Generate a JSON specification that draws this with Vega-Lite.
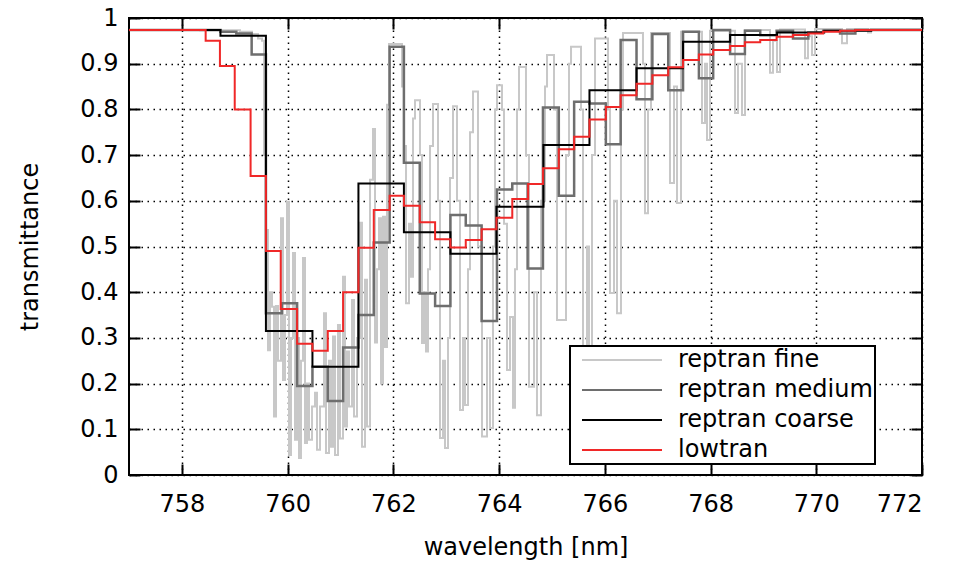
{
  "$schema": "https://vega.github.io/schema/vega-lite/v6.json",
  "width": 793,
  "height": 457,
  "autosize": {"type": "none"},
  "padding": {"left": 129, "top": 18, "right": 32, "bottom": 88},
  "background": "white",
  "config": {
    "font": "DejaVu Sans",
    "view": {"stroke": "black", "strokeWidth": 2},
    "axis": {
      "domain": false,
      "tickColor": "black",
      "tickWidth": 2,
      "tickSize": -11,
      "labelColor": "black",
      "titleColor": "black",
      "labelFontSize": 24,
      "titleFontSize": 24,
      "titleFontWeight": "normal",
      "gridColor": "black",
      "gridDash": [1.5, 4.5],
      "gridWidth": 1.5,
      "gridOpacity": 1
    },
    "legend": {
      "labelFontSize": 24,
      "labelColor": "black",
      "labelLimit": 500,
      "strokeColor": "black",
      "strokeWidth": 2,
      "fillColor": "white",
      "padding": 2,
      "symbolStrokeWidth": 2,
      "symbolType": "M-4,0H4",
      "symbolSize": 400,
      "symbolOffset": 38,
      "rowPadding": 6,
      "labelOffset": 44
    }
  },
  "datasets": {
    "fine": [
      {"wl": 757.0, "t": 0.974}, {"wl": 758.343, "t": 0.973}, {"wl": 759.1, "t": 0.97}, {"wl": 759.327, "t": 0.965},
      {"wl": 759.44, "t": 0.955}, {"wl": 759.516, "t": 0.95}, {"wl": 759.553, "t": 0.7}, {"wl": 759.591, "t": 0.536},
      {"wl": 759.629, "t": 0.273}, {"wl": 759.667, "t": 0.4}, {"wl": 759.705, "t": 0.368}, {"wl": 759.743, "t": 0.128},
      {"wl": 759.781, "t": 0.37}, {"wl": 759.818, "t": 0.25}, {"wl": 759.875, "t": 0.562}, {"wl": 759.913, "t": 0.208},
      {"wl": 759.951, "t": 0.35}, {"wl": 759.989, "t": 0.598}, {"wl": 760.026, "t": 0.044}, {"wl": 760.064, "t": 0.3},
      {"wl": 760.102, "t": 0.486}, {"wl": 760.14, "t": 0.077}, {"wl": 760.178, "t": 0.3}, {"wl": 760.216, "t": 0.037},
      {"wl": 760.253, "t": 0.25}, {"wl": 760.291, "t": 0.475}, {"wl": 760.329, "t": 0.07}, {"wl": 760.367, "t": 0.2},
      {"wl": 760.405, "t": 0.077}, {"wl": 760.462, "t": 0.15}, {"wl": 760.518, "t": 0.18}, {"wl": 760.556, "t": 0.055},
      {"wl": 760.613, "t": 0.15}, {"wl": 760.688, "t": 0.354}, {"wl": 760.726, "t": 0.048}, {"wl": 760.783, "t": 0.25},
      {"wl": 760.821, "t": 0.062}, {"wl": 760.859, "t": 0.303}, {"wl": 760.897, "t": 0.044}, {"wl": 760.953, "t": 0.328},
      {"wl": 760.991, "t": 0.08}, {"wl": 761.048, "t": 0.434}, {"wl": 761.086, "t": 0.106}, {"wl": 761.124, "t": 0.27},
      {"wl": 761.161, "t": 0.15}, {"wl": 761.218, "t": 0.383}, {"wl": 761.256, "t": 0.128}, {"wl": 761.313, "t": 0.3},
      {"wl": 761.369, "t": 0.552}, {"wl": 761.407, "t": 0.062}, {"wl": 761.464, "t": 0.427}, {"wl": 761.502, "t": 0.106},
      {"wl": 761.559, "t": 0.646}, {"wl": 761.615, "t": 0.757}, {"wl": 761.653, "t": 0.29}, {"wl": 761.691, "t": 0.45},
      {"wl": 761.729, "t": 0.562}, {"wl": 761.767, "t": 0.2}, {"wl": 761.804, "t": 0.565}, {"wl": 761.842, "t": 0.28},
      {"wl": 761.88, "t": 0.81}, {"wl": 761.918, "t": 0.943}, {"wl": 762.164, "t": 0.85}, {"wl": 762.202, "t": 0.72},
      {"wl": 762.24, "t": 0.376}, {"wl": 762.296, "t": 0.55}, {"wl": 762.334, "t": 0.434}, {"wl": 762.372, "t": 0.78},
      {"wl": 762.41, "t": 0.82}, {"wl": 762.504, "t": 0.7}, {"wl": 762.542, "t": 0.289}, {"wl": 762.58, "t": 0.4},
      {"wl": 762.618, "t": 0.27}, {"wl": 762.656, "t": 0.45}, {"wl": 762.694, "t": 0.72}, {"wl": 762.75, "t": 0.812},
      {"wl": 762.845, "t": 0.6}, {"wl": 762.883, "t": 0.081}, {"wl": 762.939, "t": 0.25}, {"wl": 762.977, "t": 0.059},
      {"wl": 763.034, "t": 0.3}, {"wl": 763.072, "t": 0.65}, {"wl": 763.129, "t": 0.807}, {"wl": 763.204, "t": 0.6},
      {"wl": 763.261, "t": 0.142}, {"wl": 763.318, "t": 0.3}, {"wl": 763.356, "t": 0.153}, {"wl": 763.412, "t": 0.45},
      {"wl": 763.45, "t": 0.75}, {"wl": 763.507, "t": 0.839}, {"wl": 763.601, "t": 0.5}, {"wl": 763.677, "t": 0.084},
      {"wl": 763.772, "t": 0.3}, {"wl": 763.828, "t": 0.103}, {"wl": 763.885, "t": 0.5}, {"wl": 763.923, "t": 0.8},
      {"wl": 763.961, "t": 0.853}, {"wl": 764.055, "t": 0.8}, {"wl": 764.093, "t": 0.55}, {"wl": 764.15, "t": 0.23},
      {"wl": 764.207, "t": 0.346}, {"wl": 764.263, "t": 0.147}, {"wl": 764.301, "t": 0.45}, {"wl": 764.339, "t": 0.8},
      {"wl": 764.377, "t": 0.893}, {"wl": 764.509, "t": 0.7}, {"wl": 764.566, "t": 0.193}, {"wl": 764.661, "t": 0.4},
      {"wl": 764.717, "t": 0.131}, {"wl": 764.793, "t": 0.6}, {"wl": 764.869, "t": 0.85}, {"wl": 764.907, "t": 0.919},
      {"wl": 765.039, "t": 0.8}, {"wl": 765.096, "t": 0.339}, {"wl": 765.266, "t": 0.7}, {"wl": 765.323, "t": 0.9},
      {"wl": 765.361, "t": 0.937}, {"wl": 765.55, "t": 0.8}, {"wl": 765.588, "t": 0.274}, {"wl": 765.663, "t": 0.5},
      {"wl": 765.701, "t": 0.252}, {"wl": 765.758, "t": 0.7}, {"wl": 765.815, "t": 0.955}, {"wl": 766.061, "t": 0.8},
      {"wl": 766.099, "t": 0.398}, {"wl": 766.174, "t": 0.6}, {"wl": 766.231, "t": 0.354}, {"wl": 766.306, "t": 0.8},
      {"wl": 766.344, "t": 0.967}, {"wl": 766.722, "t": 0.9}, {"wl": 766.76, "t": 0.573}, {"wl": 766.817, "t": 0.8},
      {"wl": 766.874, "t": 0.967}, {"wl": 767.233, "t": 0.639}, {"wl": 767.309, "t": 0.85}, {"wl": 767.366, "t": 0.595},
      {"wl": 767.441, "t": 0.97}, {"wl": 767.838, "t": 0.77}, {"wl": 767.895, "t": 0.9}, {"wl": 767.933, "t": 0.733},
      {"wl": 767.99, "t": 0.972}, {"wl": 768.463, "t": 0.792}, {"wl": 768.519, "t": 0.9}, {"wl": 768.595, "t": 0.788},
      {"wl": 768.652, "t": 0.974}, {"wl": 769.125, "t": 0.88}, {"wl": 769.182, "t": 0.95}, {"wl": 769.257, "t": 0.882},
      {"wl": 769.314, "t": 0.975}, {"wl": 769.787, "t": 0.912}, {"wl": 769.843, "t": 0.96}, {"wl": 769.919, "t": 0.919},
      {"wl": 769.976, "t": 0.976}, {"wl": 770.487, "t": 0.945}, {"wl": 770.581, "t": 0.976}, {"wl": 770.978, "t": 0.968},
      {"wl": 771.035, "t": 0.976}, {"wl": 772.0, "t": 0.977}
    ],
    "medium": [
      {"wl": 757.0, "t": 0.974}, {"wl": 758.73, "t": 0.97}, {"wl": 759.03, "t": 0.966}, {"wl": 759.32, "t": 0.92},
      {"wl": 759.59, "t": 0.354}, {"wl": 759.89, "t": 0.376}, {"wl": 760.18, "t": 0.195}, {"wl": 760.47, "t": 0.237},
      {"wl": 760.76, "t": 0.162}, {"wl": 761.05, "t": 0.279}, {"wl": 761.34, "t": 0.35}, {"wl": 761.63, "t": 0.509},
      {"wl": 761.93, "t": 0.937}, {"wl": 762.2, "t": 0.683}, {"wl": 762.5, "t": 0.397}, {"wl": 762.79, "t": 0.37},
      {"wl": 763.08, "t": 0.569}, {"wl": 763.37, "t": 0.546}, {"wl": 763.67, "t": 0.337}, {"wl": 763.96, "t": 0.625},
      {"wl": 764.25, "t": 0.638}, {"wl": 764.54, "t": 0.452}, {"wl": 764.83, "t": 0.804}, {"wl": 765.13, "t": 0.611},
      {"wl": 765.42, "t": 0.817}, {"wl": 765.71, "t": 0.813}, {"wl": 766.02, "t": 0.724}, {"wl": 766.3, "t": 0.952},
      {"wl": 766.6, "t": 0.822}, {"wl": 766.9, "t": 0.965}, {"wl": 767.2, "t": 0.842}, {"wl": 767.48, "t": 0.97},
      {"wl": 767.78, "t": 0.868}, {"wl": 768.05, "t": 0.974}, {"wl": 768.37, "t": 0.921}, {"wl": 768.65, "t": 0.972},
      {"wl": 768.94, "t": 0.962}, {"wl": 769.25, "t": 0.972}, {"wl": 769.56, "t": 0.955}, {"wl": 769.85, "t": 0.968},
      {"wl": 770.13, "t": 0.972}, {"wl": 770.45, "t": 0.966}, {"wl": 770.74, "t": 0.974}, {"wl": 772.0, "t": 0.975}
    ],
    "coarse": [
      {"wl": 757.0, "t": 0.974}, {"wl": 758.73, "t": 0.961}, {"wl": 759.59, "t": 0.315}, {"wl": 760.47, "t": 0.237},
      {"wl": 761.34, "t": 0.638}, {"wl": 762.2, "t": 0.531}, {"wl": 763.08, "t": 0.484}, {"wl": 763.95, "t": 0.587},
      {"wl": 764.84, "t": 0.722}, {"wl": 765.71, "t": 0.842}, {"wl": 766.6, "t": 0.89}, {"wl": 767.48, "t": 0.948},
      {"wl": 768.37, "t": 0.963}, {"wl": 769.26, "t": 0.968}, {"wl": 770.15, "t": 0.972}, {"wl": 771.04, "t": 0.974},
      {"wl": 772.0, "t": 0.974}
    ],
    "lowtran": [
      {"wl": 757.0, "t": 0.974}, {"wl": 758.45, "t": 0.95}, {"wl": 758.72, "t": 0.895}, {"wl": 759.0, "t": 0.8},
      {"wl": 759.3, "t": 0.654}, {"wl": 759.59, "t": 0.49}, {"wl": 759.87, "t": 0.363}, {"wl": 760.18, "t": 0.287},
      {"wl": 760.47, "t": 0.272}, {"wl": 760.76, "t": 0.315}, {"wl": 761.05, "t": 0.4}, {"wl": 761.34, "t": 0.497},
      {"wl": 761.63, "t": 0.58}, {"wl": 761.93, "t": 0.611}, {"wl": 762.2, "t": 0.589}, {"wl": 762.5, "t": 0.553},
      {"wl": 762.79, "t": 0.516}, {"wl": 763.08, "t": 0.498}, {"wl": 763.37, "t": 0.514}, {"wl": 763.67, "t": 0.538},
      {"wl": 763.95, "t": 0.563}, {"wl": 764.25, "t": 0.604}, {"wl": 764.55, "t": 0.637}, {"wl": 764.83, "t": 0.671},
      {"wl": 765.13, "t": 0.713}, {"wl": 765.42, "t": 0.74}, {"wl": 765.71, "t": 0.778}, {"wl": 766.02, "t": 0.805},
      {"wl": 766.3, "t": 0.831}, {"wl": 766.6, "t": 0.856}, {"wl": 766.9, "t": 0.875}, {"wl": 767.2, "t": 0.892},
      {"wl": 767.48, "t": 0.908}, {"wl": 767.78, "t": 0.92}, {"wl": 768.05, "t": 0.93}, {"wl": 768.37, "t": 0.939},
      {"wl": 768.65, "t": 0.947}, {"wl": 768.94, "t": 0.952}, {"wl": 769.25, "t": 0.959}, {"wl": 769.56, "t": 0.963},
      {"wl": 769.85, "t": 0.966}, {"wl": 770.13, "t": 0.97}, {"wl": 770.45, "t": 0.972}, {"wl": 770.74, "t": 0.974},
      {"wl": 772.0, "t": 0.974}
    ]
  },
  "layer": [
    {
      "data": {"name": "fine"},
      "transform": [{"calculate": "'reptran fine'", "as": "series"}],
      "mark": {"type": "line", "interpolate": "step-after", "strokeWidth": 2, "clip": true},
      "encoding": {
        "x": {"field": "wl", "type": "quantitative", "scale": {"domain": [757, 772], "nice": false, "zero": false},
          "axis": {"orient": "bottom", "values": [758, 760, 762, 764, 766, 768, 770, 772], "grid": true, "labelPadding": 28, "title": "wavelength [nm]", "titlePadding": 19}},
        "y": {"field": "t", "type": "quantitative", "scale": {"domain": [0, 1], "nice": false},
          "axis": {"orient": "left", "values": [0, 0.1, 0.2, 0.3, 0.4, 0.5, 0.6, 0.7, 0.8, 0.9, 1], "format": ".1~f", "grid": true, "labelPadding": 22, "title": "transmittance", "titlePadding": 37}},
        "color": {"field": "series", "type": "nominal",
          "scale": {"domain": ["reptran fine", "reptran medium", "reptran coarse", "lowtran"], "range": ["#c8c8c8", "#6e6e6e", "#000000", "#f02828"]},
          "legend": {"title": null, "orient": "none", "legendX": 441, "legendY": 328, "direction": "vertical"}}
      }
    },
    {
      "data": {"name": "medium"},
      "transform": [{"calculate": "'reptran medium'", "as": "series"}],
      "mark": {"type": "line", "interpolate": "step-after", "strokeWidth": 2.5, "clip": true},
      "encoding": {
        "x": {"field": "wl", "type": "quantitative", "axis": {"orient": "top", "values": [758, 760, 762, 764, 766, 768, 770, 772], "labels": false, "grid": false, "title": null}},
        "y": {"field": "t", "type": "quantitative", "axis": {"orient": "right", "values": [0, 0.1, 0.2, 0.3, 0.4, 0.5, 0.6, 0.7, 0.8, 0.9, 1], "labels": false, "grid": false, "title": null}},
        "color": {"field": "series", "type": "nominal"}
      }
    },
    {
      "data": {"name": "coarse"},
      "transform": [{"calculate": "'reptran coarse'", "as": "series"}],
      "mark": {"type": "line", "interpolate": "step-after", "strokeWidth": 2, "clip": true},
      "encoding": {
        "x": {"field": "wl", "type": "quantitative", "axis": null},
        "y": {"field": "t", "type": "quantitative", "axis": null},
        "color": {"field": "series", "type": "nominal"}
      }
    },
    {
      "data": {"name": "lowtran"},
      "transform": [{"calculate": "'lowtran'", "as": "series"}],
      "mark": {"type": "line", "interpolate": "step-after", "strokeWidth": 2, "clip": true},
      "encoding": {
        "x": {"field": "wl", "type": "quantitative", "axis": null},
        "y": {"field": "t", "type": "quantitative", "axis": null},
        "color": {"field": "series", "type": "nominal"}
      }
    }
  ],
  "resolve": {"axis": {"x": "independent", "y": "independent"}}
}
